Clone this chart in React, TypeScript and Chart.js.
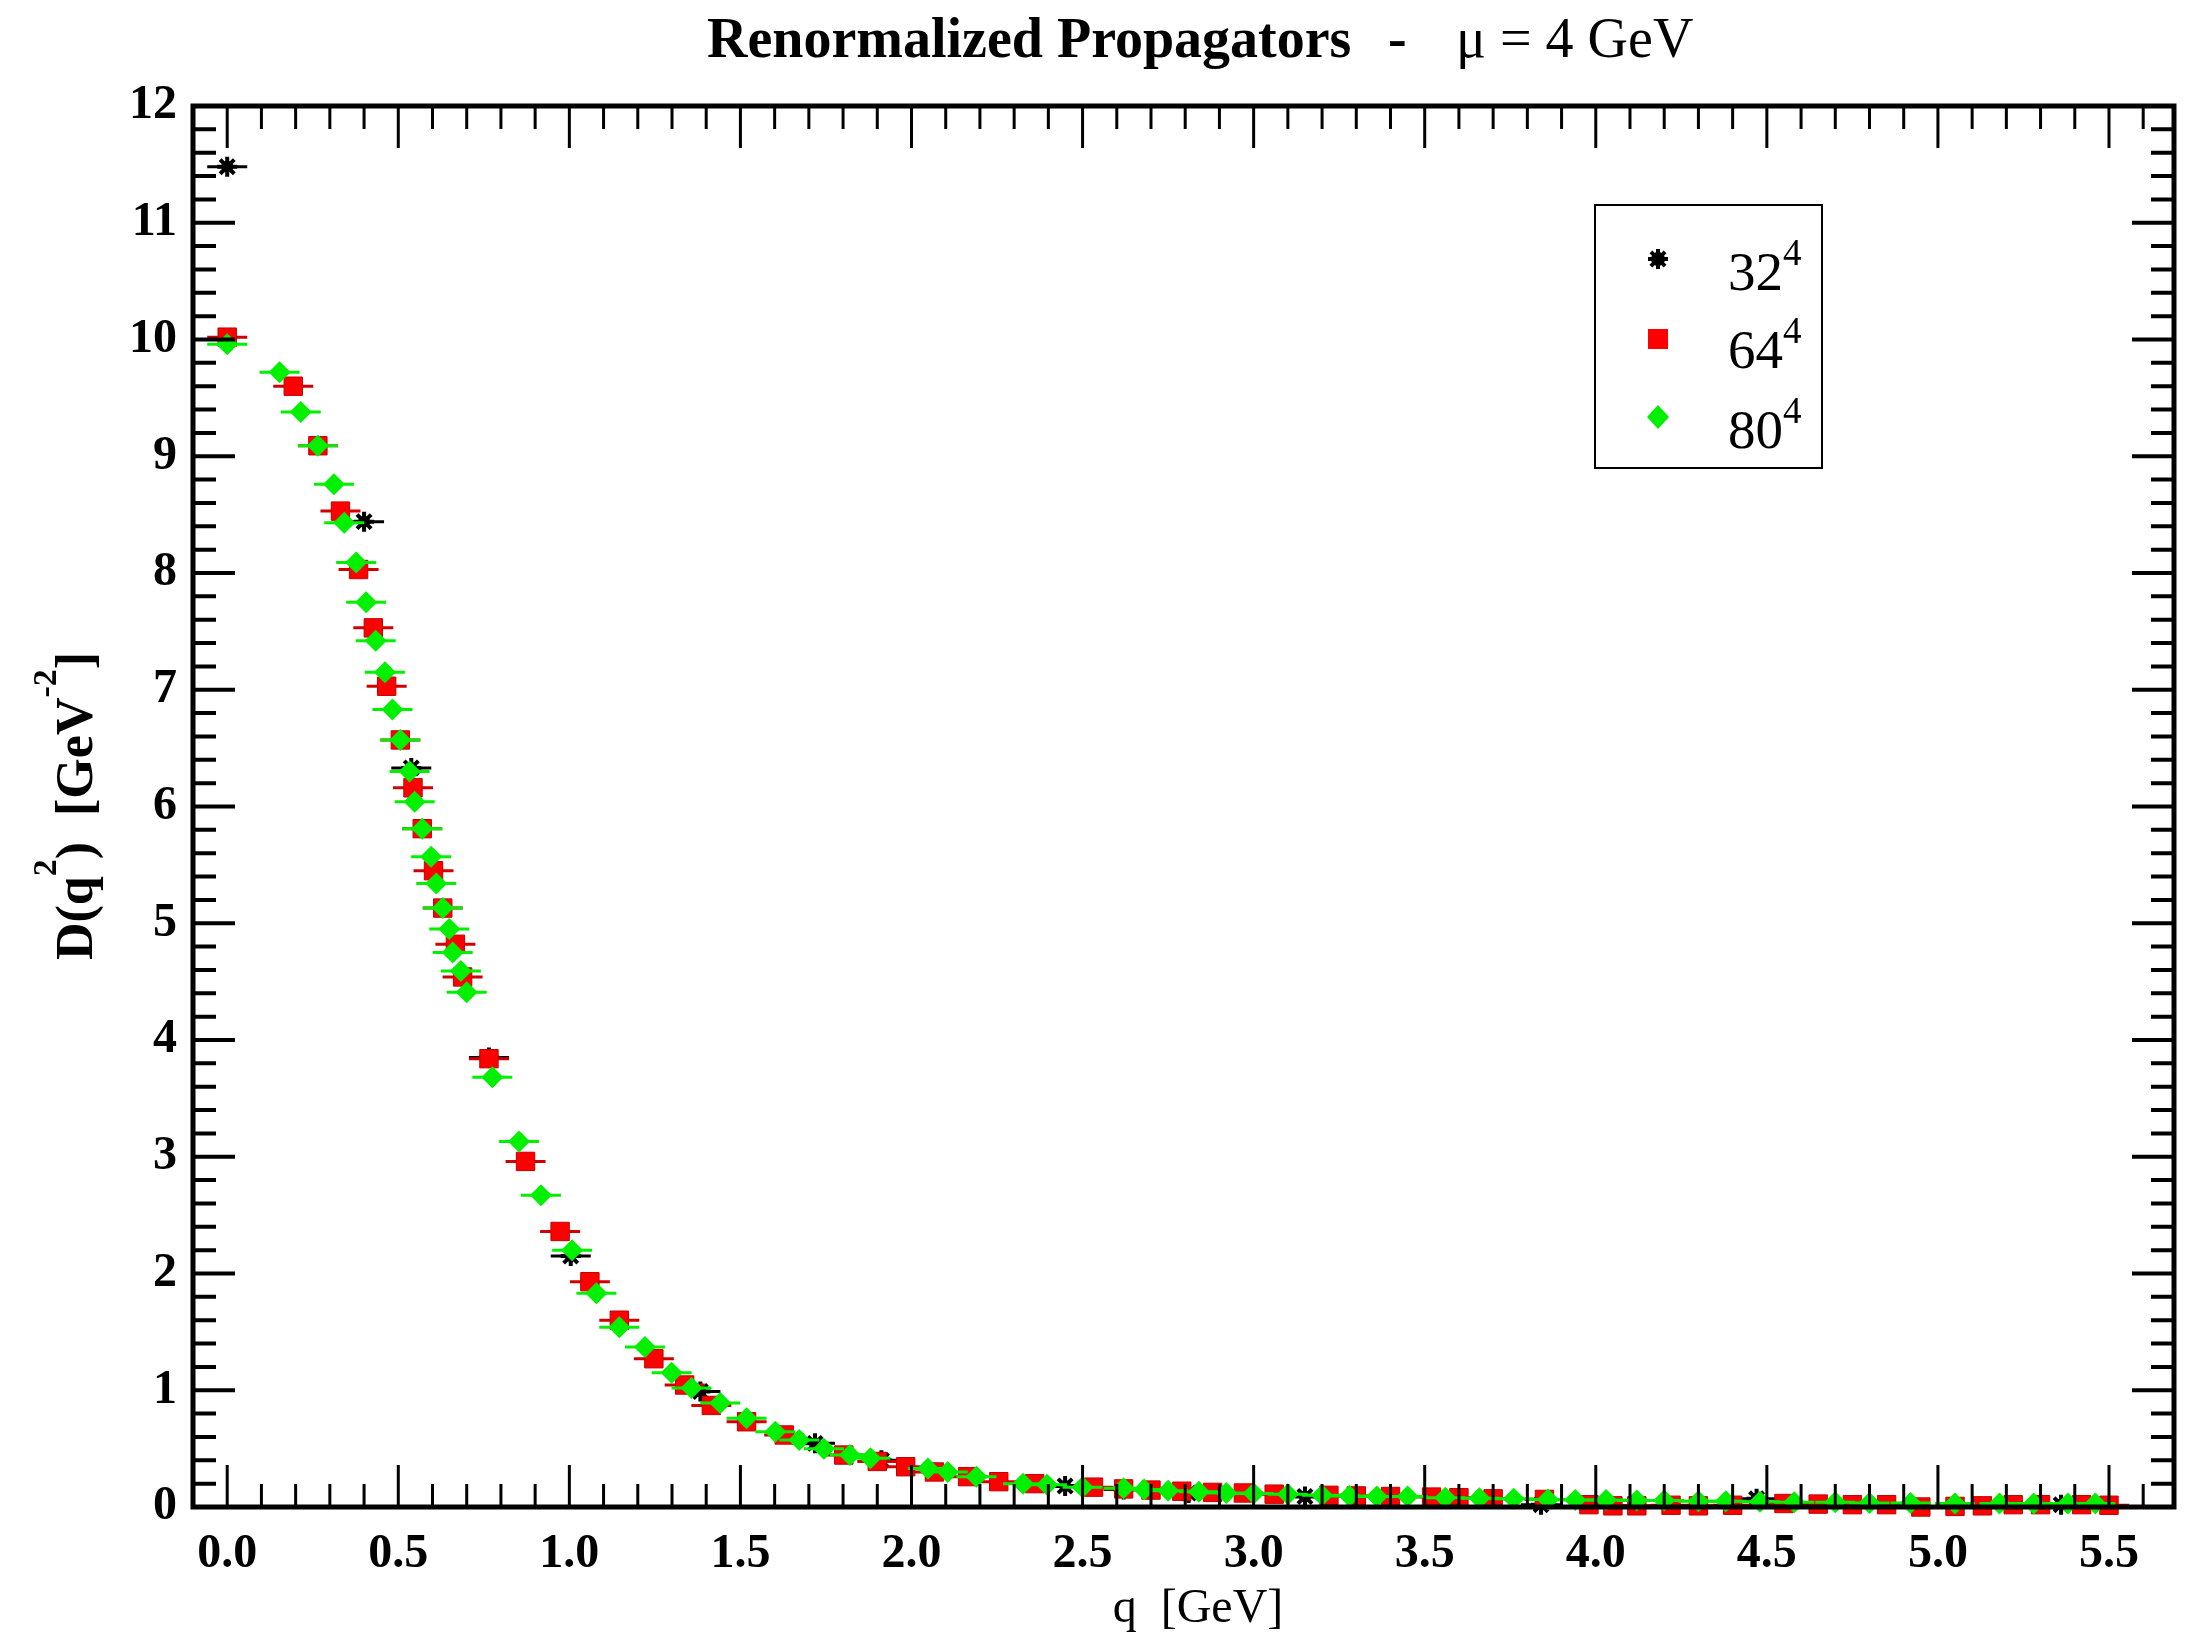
import React, { useEffect, useRef } from "react";
import { Chart, registerables } from "chart.js";

Chart.register(...registerables);

const W = 2197;
const H = 1645;
const SERIF = '"Liberation Serif", "Times New Roman", serif';

// ---- data: 32^4 lattice (black) ----
const q32 = [0.0, 0.4, 0.538, 0.765, 1.004, 1.383, 1.718, 1.912, 2.449, 2.62, 2.81, 3.15, 3.84, 4.47, 5.36];
const d32 = [11.48, 8.44, 6.33, 3.85, 2.15, 0.99, 0.545, 0.4, 0.18, 0.15, 0.12, 0.09, 0.02, 0.07, 0.02];

// ---- data: 64^4 lattice (red) ----
const q64 = [
  0.0, 0.193, 0.265, 0.331, 0.384, 0.427, 0.466, 0.506, 0.543, 0.57, 0.603, 0.63, 0.667, 0.688,
  0.765, 0.872, 0.973, 1.06, 1.146, 1.247, 1.337, 1.415, 1.518, 1.628, 1.802, 1.9, 1.983, 2.067,
  2.164, 2.255, 2.36, 2.532, 2.62, 2.7, 2.79, 2.88, 2.97, 3.06, 3.22, 3.3, 3.4, 3.52, 3.6, 3.7,
  3.85, 3.98, 4.05, 4.12, 4.22, 4.3, 4.4, 4.55, 4.65, 4.75, 4.85, 4.95, 5.05, 5.13, 5.22, 5.3,
  5.42, 5.5,
];
const d64 = [
  10.02, 9.6, 9.09, 8.53, 8.03, 7.53, 7.03, 6.57, 6.16, 5.81, 5.45, 5.13, 4.82, 4.54,
  3.84, 2.96, 2.36, 1.93, 1.6, 1.27, 1.045, 0.87, 0.73, 0.617, 0.445, 0.39, 0.345, 0.3,
  0.26, 0.217, 0.2, 0.17, 0.155, 0.145, 0.135, 0.125, 0.12, 0.11, 0.1, 0.095, 0.09, 0.085, 0.08, 0.07,
  0.065, 0.02, 0.01, 0.01, 0.015, 0.01, 0.015, 0.03, 0.025, 0.02, 0.02, 0.0, 0.005, 0.01, 0.02, 0.02,
  0.02, 0.015,
];

// ---- data: 80^4 lattice (green) ----
const q80 = [
  0.0, 0.153, 0.215, 0.265, 0.312, 0.342, 0.377, 0.406, 0.434, 0.461, 0.483, 0.506, 0.533, 0.548,
  0.57, 0.596, 0.611, 0.63, 0.649, 0.659, 0.683, 0.7, 0.775, 0.853, 0.917, 1.008, 1.079, 1.146,
  1.221, 1.299, 1.357, 1.441, 1.518, 1.602, 1.672, 1.744, 1.82, 1.88, 2.048, 2.106, 2.19, 2.326,
  2.396, 2.5, 2.62, 2.68, 2.75, 2.84, 2.92, 3.0, 3.1, 3.2, 3.28, 3.36, 3.45, 3.56, 3.66, 3.76,
  3.86, 3.94, 4.03, 4.12, 4.2, 4.3, 4.38, 4.48, 4.58, 4.7, 4.8, 4.92, 5.05, 5.18, 5.28, 5.38, 5.46,
];
const d80 = [
  9.96, 9.72, 9.38, 9.09, 8.76, 8.43, 8.09, 7.75, 7.42, 7.15, 6.83, 6.57, 6.3, 6.04,
  5.81, 5.57, 5.34, 5.13, 4.95, 4.75, 4.59, 4.41, 3.68, 3.13, 2.67, 2.2, 1.83, 1.54,
  1.37, 1.15, 1.02, 0.89, 0.76, 0.645, 0.574, 0.5, 0.445, 0.417, 0.33, 0.3, 0.26, 0.2,
  0.19, 0.17, 0.16, 0.15, 0.14, 0.13, 0.12, 0.115, 0.11, 0.1, 0.095, 0.09, 0.09, 0.08, 0.075, 0.07,
  0.065, 0.06, 0.06, 0.055, 0.055, 0.05, 0.05, 0.045, 0.04, 0.04, 0.035, 0.035, 0.03, 0.03, 0.03, 0.03, 0.03,
];

const seriesNames = ["32", "64", "80"];
const seriesExp = "4";
const xTickValues = [0, 0.5, 1, 1.5, 2, 2.5, 3, 3.5, 4, 4.5, 5, 5.5];
const yTickValues = [0, 1, 2, 3, 4, 5, 6, 7, 8, 9, 10, 11, 12];
const X_MIN = -0.1;
const X_MAX = 5.69;
const Y_MIN = 0;
const Y_MAX = 12;

const BLACK = "#000000";
const RED = "#ff0000";
const GREEN = "#00f000";

type Part = { text: string; font: string; dy: number };

function drawParts(ctx: CanvasRenderingContext2D, parts: Part[], x: number, y: number, align: "left" | "center") {
  let total = 0;
  for (const p of parts) {
    ctx.font = p.font;
    total += ctx.measureText(p.text).width;
  }
  let cx = align === "center" ? x - total / 2 : x;
  ctx.textAlign = "left";
  ctx.textBaseline = "alphabetic";
  for (const p of parts) {
    ctx.font = p.font;
    ctx.fillText(p.text, cx, y + p.dy);
    cx += ctx.measureText(p.text).width;
  }
}

export default function App() {
  const ref = useRef<HTMLCanvasElement>(null);

  useEffect(() => {
    const canvas = ref.current;
    if (!canvas) return;
    const pts = (q: number[], d: number[]) => q.map((x, i) => ({ x, y: d[i] }));

    const decor = {
      id: "decor",
      afterDraw(chart: any) {
        const ctx: CanvasRenderingContext2D = chart.ctx;
        const { left, right, top, bottom } = chart.chartArea;
        const xs = chart.scales.x;
        const ys = chart.scales.y;
        ctx.save();
        ctx.strokeStyle = "#000";
        ctx.fillStyle = "#000";
        ctx.lineCap = "butt";

        // x ticks (inward, bottom and top)
        ctx.lineWidth = 3;
        ctx.beginPath();
        for (let i = 0; i <= 56; i++) {
          const v = i / 10;
          const px = xs.getPixelForValue(v);
          if (px > right - 3) continue;
          const len = i % 5 === 0 ? 42 : 23;
          ctx.moveTo(px, bottom);
          ctx.lineTo(px, bottom - len);
          ctx.moveTo(px, top);
          ctx.lineTo(px, top + len);
        }
        ctx.stroke();

        // y ticks (inward, left and right)
        ctx.lineWidth = 4;
        ctx.beginPath();
        for (let i = 0; i <= 60; i++) {
          const v = i / 5;
          const py = ys.getPixelForValue(v);
          const len = i % 5 === 0 ? 42 : 23;
          ctx.moveTo(left, py);
          ctx.lineTo(left + len, py);
          ctx.moveTo(right, py);
          ctx.lineTo(right - len, py);
        }
        ctx.stroke();

        // frame
        ctx.lineWidth = 5;
        ctx.strokeRect(left, top, right - left, bottom - top);

        // title
        ctx.textBaseline = "alphabetic";
        ctx.textAlign = "left";
        ctx.font = `bold 56px ${SERIF}`;
        ctx.fillText("Renormalized Propagators", 707, 57);
        ctx.fillText("-", 1388, 57);
        ctx.font = `56px ${SERIF}`;
        ctx.fillText("\u03bc = 4 GeV", 1456, 57);

        // x axis title
        ctx.font = `48px ${SERIF}`;
        ctx.textAlign = "center";
        ctx.fillText("q  [GeV]", 1198, 1622);

        // y axis title (rotated)
        ctx.save();
        ctx.translate(92, 806);
        ctx.rotate(-Math.PI / 2);
        const big = `bold 52px ${SERIF}`;
        const sup = `bold 34px ${SERIF}`;
        drawParts(
          ctx,
          [
            { text: "D(q", font: big, dy: 0 },
            { text: "2", font: sup, dy: -36 },
            { text: ")  [GeV", font: big, dy: 0 },
            { text: "-2", font: sup, dy: -36 },
            { text: "]", font: big, dy: 0 },
          ],
          0,
          0,
          "center"
        );
        ctx.restore();

        // legend box
        ctx.lineWidth = 2;
        ctx.strokeStyle = "#000";
        ctx.strokeRect(1595, 205, 227, 263);
        const symX = 1658;
        const rowsSym = [259, 339, 417];
        const rowsBase = [290, 368, 448];
        // black star (filled core + spikes)
        ctx.fillStyle = BLACK;
        ctx.beginPath();
        ctx.arc(symX, rowsSym[0], 7, 0, Math.PI * 2);
        ctx.fill();
        ctx.strokeStyle = BLACK;
        ctx.lineWidth = 4;
        ctx.beginPath();
        for (let k = 0; k < 4; k++) {
          const a = (k * Math.PI) / 4;
          ctx.moveTo(symX - 10 * Math.cos(a), rowsSym[0] - 10 * Math.sin(a));
          ctx.lineTo(symX + 10 * Math.cos(a), rowsSym[0] + 10 * Math.sin(a));
        }
        ctx.stroke();
        // red square
        ctx.fillStyle = RED;
        ctx.fillRect(symX - 10, rowsSym[1] - 10, 20, 20);
        // green diamond
        ctx.fillStyle = GREEN;
        ctx.beginPath();
        ctx.moveTo(symX - 11, rowsSym[2]);
        ctx.lineTo(symX, rowsSym[2] - 12);
        ctx.lineTo(symX + 11, rowsSym[2]);
        ctx.lineTo(symX, rowsSym[2] + 12);
        ctx.closePath();
        ctx.fill();
        // legend labels
        ctx.fillStyle = "#000";
        for (let r = 0; r < 3; r++) {
          drawParts(
            ctx,
            [
              { text: seriesNames[r], font: `55px ${SERIF}`, dy: 0 },
              { text: seriesExp, font: `37px ${SERIF}`, dy: -25 },
            ],
            1728,
            rowsBase[r],
            "left"
          );
        }
        ctx.restore();
      },
    };

    const barDs = (q: number[], d: number[], color: string, order: number, r: number) => ({
      data: pts(q, d),
      pointStyle: "line",
      pointRadius: r,
      pointBorderWidth: 3,
      pointBorderColor: color,
      pointBackgroundColor: color,
      showLine: false,
      clip: false,
      order,
    });

    const chart = new Chart(canvas, {
      type: "scatter",
      data: {
        datasets: [
          barDs(q80, d80, GREEN, 2, 20),
          {
            data: pts(q80, d80),
            pointStyle: "rectRot",
            pointRadius: 11,
            pointBorderWidth: 0,
            pointBackgroundColor: GREEN,
            pointBorderColor: GREEN,
            clip: false,
            order: 1,
          },
          barDs(q64, d64, "#d00000", 4, 20),
          {
            data: pts(q64, d64),
            pointStyle: "rect",
            pointRadius: 13,
            pointBorderWidth: 1,
            pointBackgroundColor: RED,
            pointBorderColor: "#c00000",
            clip: false,
            order: 3,
          },
          barDs(q32, d32, BLACK, 7, 20),
          {
            data: pts(q32, d32),
            pointStyle: "circle",
            pointRadius: 6,
            pointBorderWidth: 0,
            pointBackgroundColor: BLACK,
            pointBorderColor: BLACK,
            clip: false,
            order: 6,
          },
          {
            data: pts(q32, d32),
            pointStyle: "star",
            pointRadius: 10,
            pointBorderWidth: 4,
            pointBackgroundColor: BLACK,
            pointBorderColor: BLACK,
            clip: false,
            order: 5,
          },
        ] as any,
      },
      options: {
        animation: false,
        responsive: false,
        devicePixelRatio: 1,
        events: [],
        layout: { padding: { top: 106, right: 4, left: 0, bottom: 0 } },
        plugins: {
          legend: { display: false },
          tooltip: { enabled: false },
          title: { display: false },
        },
        scales: {
          x: {
            type: "linear",
            min: X_MIN,
            max: X_MAX,
            grid: { display: false, drawTicks: false },
            border: { display: false },
            afterBuildTicks: (scale: any) => {
              scale.ticks = xTickValues.map((v) => ({ value: v }));
            },
            afterFit: (scale: any) => {
              scale.height = H - 1507;
            },
            ticks: {
              autoSkip: false,
              maxRotation: 0,
              minRotation: 0,
              padding: 19,
              color: "#000",
              font: { family: SERIF, size: 48, weight: "bold" },
              callback: (v: any) => Number(v).toFixed(1),
            },
          },
          y: {
            type: "linear",
            min: Y_MIN,
            max: Y_MAX,
            grid: { display: false, drawTicks: false },
            border: { display: false },
            afterBuildTicks: (scale: any) => {
              scale.ticks = yTickValues.map((v) => ({ value: v }));
            },
            afterFit: (scale: any) => {
              scale.width = 193;
            },
            ticks: {
              autoSkip: false,
              padding: 16,
              color: "#000",
              font: { family: SERIF, size: 48, weight: "bold" },
              callback: (v: any) => String(v),
            },
          },
        },
      } as any,
      plugins: [decor],
    });

    return () => chart.destroy();
  }, []);

  return (
    <div style={{ position: "absolute", left: 0, top: 0, width: W, height: H, background: "#fff" }}>
      <canvas ref={ref} width={W} height={H} style={{ display: "block", width: W, height: H }} />
    </div>
  );
}
